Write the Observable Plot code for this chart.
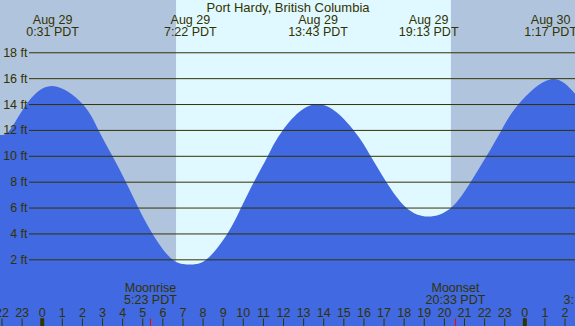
<!DOCTYPE html>
<html>
<head>
<meta charset="utf-8">
<script src="https://cdn.jsdelivr.net/npm/d3@7"></script>
<script src="https://cdn.jsdelivr.net/npm/@observablehq/plot@0.6"></script>
<style>
  html, body { margin: 0; padding: 0; overflow: hidden; background: #e0f8ff; }
</style>
</head>
<body>
<div id="chart"></div>
<script>
// Hours since midnight Aug 29 (PDT); window runs from late Aug 28 to early Aug 30
const windowHours = [-2.074, 26.52];
const sunrise = 6.68;   // ~6:41
const sunset = 20.35;   // ~20:21

// Tide height readings (hours, feet)
const tideHours = [-2.074, -1.58, -0.75, 0.517, 2.03, 2.82, 3.51, 4.18, 4.80, 5.50, 6.49, 7.367, 8.2, 9.24, 9.92, 10.56, 11.25, 12.0, 13.717, 15.50, 16.35, 17.13, 18.12, 19.217, 20.37, 21.34, 22.13, 22.87, 23.72, 25.283, 26.52];
const tideFeet  = [11.6, 12, 14, 15.4, 14, 12, 10, 8, 6, 4, 2, 1.6, 2, 4, 6, 8, 10, 12, 14.0, 12, 10, 8, 6, 5.3, 6, 8, 10, 12, 14, 15.9, 14.8];

// High / low labels
const extremeHours = [0.517, 7.367, 13.717, 19.217, 25.283];
const extremeDates = ["Aug 29", "Aug 29", "Aug 29", "Aug 29", "Aug 30"];
const extremeTimes = ["0:31 PDT", "7:22 PDT", "13:43 PDT", "19:13 PDT", "1:17 PDT"];

// Moon events
const moonHours = [5.383, 20.55];
const moonNames = ["Moonrise", "Moonset"];
const moonTimes = ["5:23 PDT", "20:33 PDT"];

// Axis ticks
const feetTicks = [2, 4, 6, 8, 10, 12, 14, 16, 18];
const hourTicks = [-2, -1, 0, 1, 2, 3, 4, 5, 6, 7, 8, 9, 10, 11, 12, 13, 14, 15, 16, 17, 18, 19, 20, 21, 22, 23, 24, 25, 26];
const hourLabels = ["22", "23", "0", "1", "2", "3", "4", "5", "6", "7", "8", "9", "10", "11", "12", "13", "14", "15", "16", "17", "18", "19", "20", "21", "22", "23", "0", "1", "2"];
const midnightHours = [0, 24];

const yDomain = [-3.153, 22.04];
const title = "Port Hardy, British Columbia";

const tide = tideHours.map((h, i) => ({h, ft: tideFeet[i]}));
const nights = [{a: windowHours[0], b: sunrise}, {a: sunset, b: windowHours[1]}];
const extremes = extremeHours.map((h, i) => ({h, label: extremeDates[i] + "\n" + extremeTimes[i]}));
const moons = moonHours.map((h, i) => ({h, label: moonNames[i] + "\n" + moonTimes[i]}));
const hourRows = hourTicks.map((h, i) => ({h, label: hourLabels[i]}));

const ink = "#333300";
const fs = 12.5;

const chart = Plot.plot({
  width: 575,
  height: 326,
  margin: 0,
  style: {background: "#e0f8ff", overflow: "hidden", fontFamily: "'Liberation Sans', Arial, sans-serif", fontSize: fs + "px", color: ink},
  x: {domain: windowHours, axis: null},
  y: {domain: yDomain, axis: null},
  marks: [
    Plot.rect(nights, {x1: "a", x2: "b", fill: "#b0c4de"}),
    Plot.areaY(tide, {x: "h", y1: yDomain[0], y2: "ft", fill: "#4169e1", curve: "natural"}),
    Plot.ruleY(feetTicks, {stroke: ink, strokeWidth: 1, insetLeft: 29}),
    Plot.text(feetTicks, {y: d => d, text: d => d + " ft", frameAnchor: "left", textAnchor: "end", dx: 27, fill: ink, fontSize: fs}),
    Plot.text([title], {frameAnchor: "top", lineAnchor: "top", dy: 2.5, text: d => d, fill: ink, fontSize: 13}),
    Plot.text(extremes, {x: "h", text: "label", frameAnchor: "top", lineAnchor: "top", dy: 15, lineHeight: 0.96, fill: ink, fontSize: fs}),
    Plot.text(moons, {x: "h", text: "label", frameAnchor: "bottom", lineAnchor: "bottom", dy: -22.7, lineHeight: 0.96, fill: ink, fontSize: fs}),
    Plot.text(["3:"], {frameAnchor: "bottom-right", textAnchor: "start", lineAnchor: "bottom", dx: -12, dy: -22.7, text: d => d, fill: ink, fontSize: fs}),
    Plot.text(hourRows, {x: "h", text: "label", frameAnchor: "bottom", lineAnchor: "bottom", dy: -10, fill: ink, fontSize: fs}),
    Plot.ruleX(hourTicks, {stroke: ink, strokeWidth: 1, insetTop: 318.5}),
    Plot.ruleX(midnightHours, {stroke: ink, strokeWidth: 4, insetTop: 318.3}),
    Plot.ruleX(moonHours, {stroke: "red", strokeWidth: 1, insetTop: 318.5})
  ]
});
document.getElementById("chart").appendChild(chart);
</script>
</body>
</html>
